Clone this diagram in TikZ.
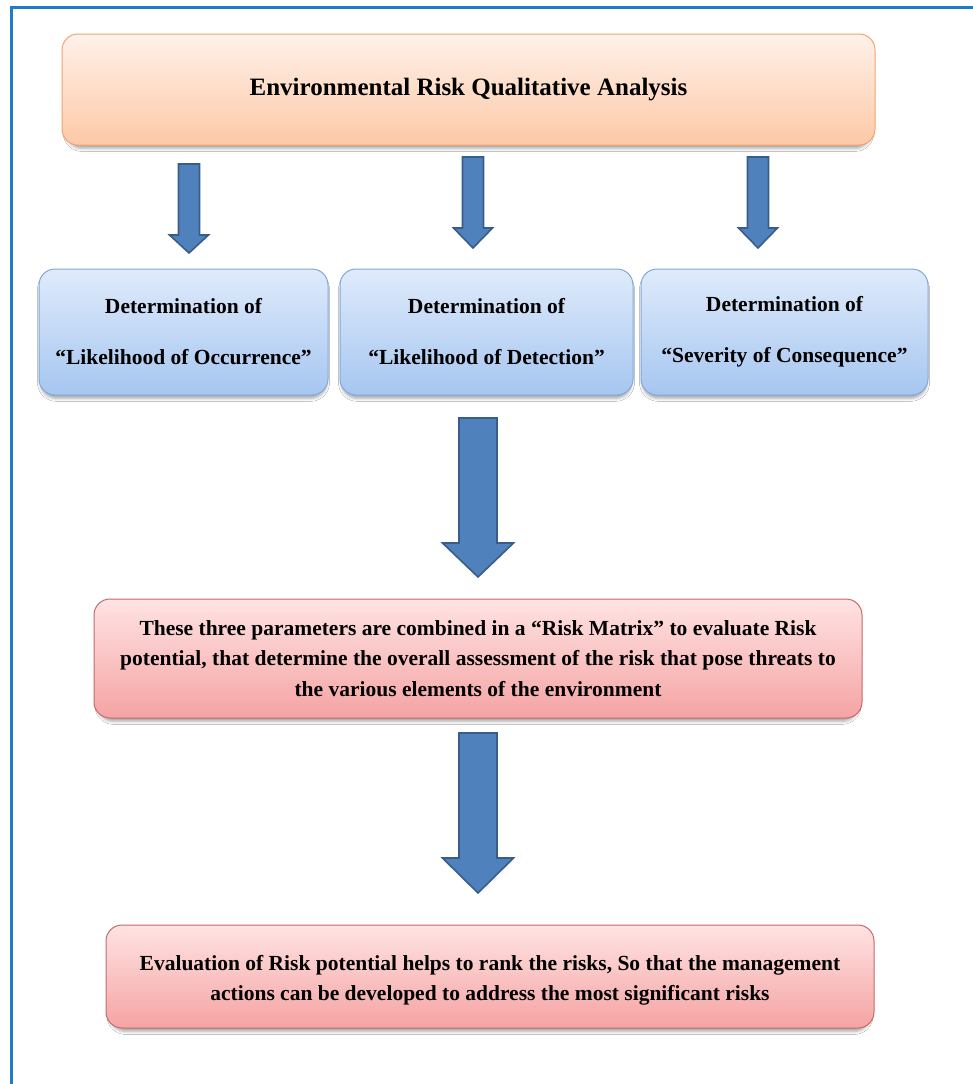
\documentclass[tikz,border=0pt]{standalone}
\usepackage{fontspec}
\setmainfont{Liberation Serif}
\usetikzlibrary{shadows.blur}
\definecolor{frameblue}{HTML}{1F7CCB}
\definecolor{orgtop}{HTML}{FFF1EA}
\definecolor{orgbot}{HTML}{FCC9A6}
\definecolor{orgdraw}{HTML}{F2A46E}
\definecolor{blutop}{HTML}{DFEBFB}
\definecolor{blubot}{HTML}{A6C6F0}
\definecolor{bludraw}{HTML}{7FA8DA}
\definecolor{redtop}{HTML}{FFE3E3}
\definecolor{redbot}{HTML}{F5A3A3}
\definecolor{reddraw}{HTML}{C46A6A}
\definecolor{arrfill}{HTML}{4F81BD}
\definecolor{arrdraw}{HTML}{385D8A}
\newcommand\blockarrow[7]{%
  \coordinate (#1) at (#2,#3);
  \path[blockarr] ({#2-#6},#3) -- ({#2+#6},#3) -- ({#2+#6},#4) -- ({#2+#7},#4)
     -- (#2,#5) -- ({#2-#7},#4) -- ({#2-#6},#4) -- cycle;}
\begin{document}
\begin{tikzpicture}[x=1pt,y=-1pt,
  boxbase/.style={rounded corners=16pt, line width=1pt, align=center, inner sep=0pt,
     blur shadow={shadow xshift=0pt, shadow yshift=-4pt, shadow scale=0.99, shadow blur radius=3pt, shadow opacity=35}},
  titlebox/.style={boxbase, draw=orgdraw, top color=orgtop, bottom color=orgbot,
     font=\fontsize{25}{30}\selectfont\bfseries},
  detbox/.style={boxbase, draw=bludraw, top color=blutop, bottom color=blubot,
     font=\fontsize{21.5}{51}\selectfont\bfseries},
  redbox/.style={boxbase, draw=reddraw, top color=redtop, bottom color=redbot,
     font=\fontsize{21.5}{30.5}\selectfont\bfseries},
  blockarr/.style={fill=arrfill, draw=arrdraw, line width=1.6pt, line join=miter}]
\useasboundingbox (0,0) rectangle (973,1084);
\fill[white] (0,0) rectangle (973,1084);
\draw[frameblue, line width=3pt] (11,1084) -- (11,7.5) -- (973,7.5);

\node[titlebox, minimum width=813pt, minimum height=111pt] (title) at (468.5,89.5)
  {Environmental Risk Qualitative Analysis};

\node[detbox, minimum width=289pt, minimum height=126pt] (occ) at (183.5,332)
  {Determination of\\ “Likelihood of Occurrence”};
\node[detbox, minimum width=293pt, minimum height=126pt] (det) at (486.5,332)
  {Determination of\\ “Likelihood of Detection”};
\node[detbox, minimum width=287pt, minimum height=126pt] (sev) at (784.5,332)
  {Determination of\\ “Severity of Consequence”};

\node[redbox, minimum width=768pt, minimum height=119pt] (matrix) at (478,658.5)
  {These three parameters are combined in a “Risk Matrix” to evaluate Risk\\
   potential, that determine the overall assessment of the risk that pose threats to\\
   the various elements of the environment};

\node[redbox, minimum width=768pt, minimum height=103pt] (eval) at (490,976.5)
  {\rule{0pt}{23pt}Evaluation of Risk potential helps to rank the risks, So that the management\\
   actions can be developed to address the most significant risks};

\blockarrow{a1}{189}{164}{235}{253}{10.5}{19.5}
\blockarrow{a2}{473}{157}{228}{248}{10.5}{19.5}
\blockarrow{a3}{758}{157}{228}{248}{10.5}{19.5}
\blockarrow{a4}{478}{418}{543}{577}{19}{35.5}
\blockarrow{a5}{478}{733}{858}{893}{19}{35.5}
\end{tikzpicture}
\end{document}
